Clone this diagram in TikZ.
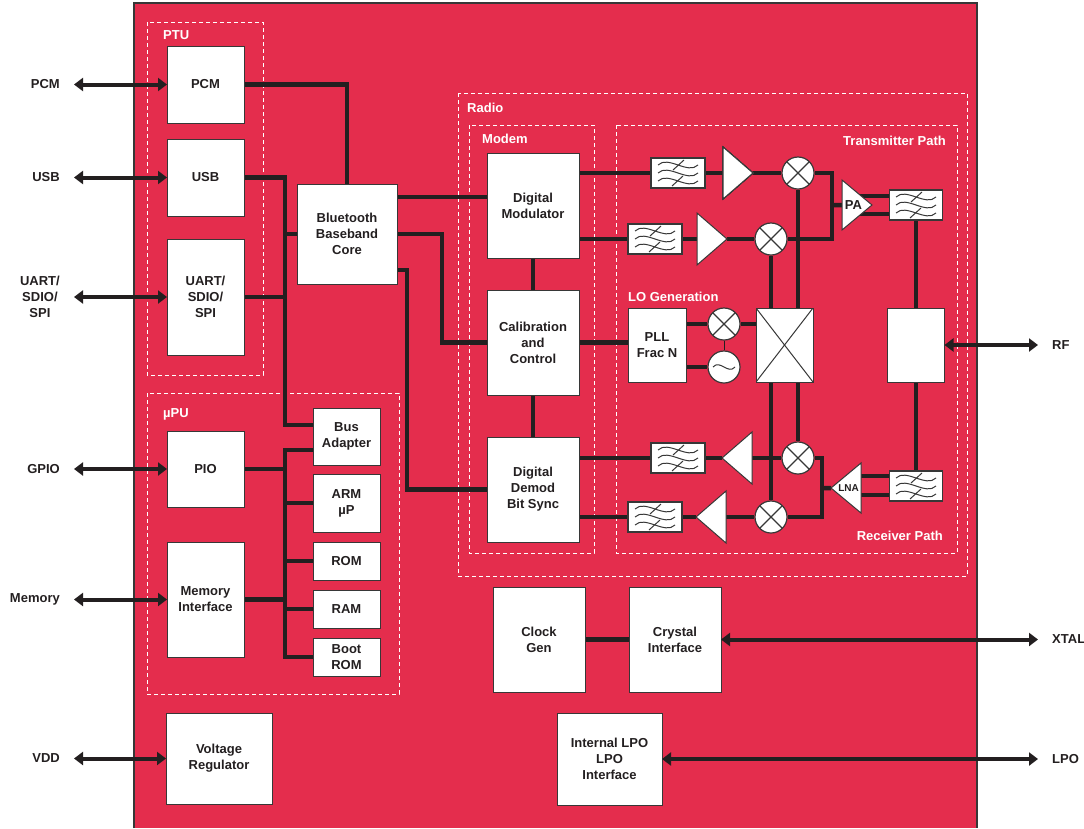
\documentclass[tikz,border=0pt]{standalone}
\usepackage{fontspec}
\setmainfont{Liberation Sans}
\usetikzlibrary{calc,positioning,shapes.geometric,arrows.meta}
\definecolor{chipred}{RGB}{228,45,77}
\definecolor{ink}{RGB}{35,31,32}
\definecolor{boxline}{RGB}{55,55,55}
\pgfdeclarelayer{back}
\pgfdeclarelayer{wires}
\pgfsetlayers{back,wires,main}

% filter symbol: three waves and two slashes
\newcommand\waves[1]{%
  \foreach \dy in {-8,0,8}
    \draw[boxline, line width=1pt] ([shift={(-20pt,\dy pt)}]#1.center) .. controls +(10pt,10pt) and +(-10pt,-10pt) .. ([shift={(20pt,\dy pt)}]#1.center);
  \draw[boxline, line width=1pt] ([shift={(-5pt,3pt)}]#1.center) -- ([shift={(6pt,13pt)}]#1.center)
    ([shift={(-6pt,-13pt)}]#1.center) -- ([shift={(5pt,-3pt)}]#1.center);
}

\begin{document}
\begin{tikzpicture}[x=1pt,y=-1pt,
  every node/.style={font=\fontsize{13}{16}\selectfont\bfseries, text=ink},
  blockbox/.style={draw=boxline, fill=white, line width=1pt, align=center, inner sep=0pt, outer sep=0pt},
  blk/.style 2 args={blockbox, minimum width=#1pt, minimum height=#2pt},
  grpbox/.style={draw=white, line width=1pt, dash pattern=on 4pt off 3pt},
  grplbl/.style={text=white, inner sep=0pt},
  pinlbl/.style={inner sep=0pt, align=center},
  wire/.style={draw=ink, line width=4.5pt},
  pinarrow/.style={draw=ink, line width=4pt, >={Triangle[length=9pt,width=13pt]}, <->},
  filt/.style={draw=boxline, fill=white, line width=1.2pt, minimum width=54pt, minimum height=30pt, inner sep=0pt, outer sep=0pt},
  ampr/.style={isosceles triangle, isosceles triangle stretches, draw=boxline, fill=white, line width=1pt, inner sep=0pt, outer sep=0pt, minimum width=52pt, minimum height=30pt},
  ampl/.style={ampr, shape border rotate=180},
  mixer/.style={circle, draw=boxline, fill=white, line width=1.2pt, minimum size=32pt, inner sep=0pt,
    path picture={\draw[boxline, line width=1.2pt] (path picture bounding box.north west) -- (path picture bounding box.south east) (path picture bounding box.south west) -- (path picture bounding box.north east);}},
  osc/.style={circle, draw=boxline, fill=white, line width=1.2pt, minimum size=32pt, inner sep=0pt,
    path picture={\draw[boxline, line width=1pt] ([xshift=-11pt]path picture bounding box.center) .. controls +(7pt,8pt) and +(-7pt,-8pt) .. ([xshift=11pt]path picture bounding box.center);}},
  quadbox/.style={path picture={\draw[boxline, line width=1pt] (path picture bounding box.north west) -- (path picture bounding box.south east) (path picture bounding box.south west) -- (path picture bounding box.north east);}}]
  \useasboundingbox (0,0) rectangle (1084,828);

  % chip and groups
  \begin{pgfonlayer}{back}
    \fill[chipred] (134,3) rectangle (977,828);
    \draw[boxline, line width=1.5pt] (134,828) |- (977,3) -- (977,828);
    \draw[grpbox] (147,22) rectangle (263,375);
    \draw[grpbox] (147,393) rectangle (399,694);
    \draw[grpbox] (458,93) rectangle (967,576);
    \draw[grpbox] (469,125) rectangle (594,553);
    \draw[grpbox] (616,125) rectangle (957,553);
  \end{pgfonlayer}
  \node[grplbl, anchor=base west] (ptul) at (163,39) {PTU};
  \node[grplbl, anchor=base west] (upul) at (163,417) {µPU};
  \node[grplbl, anchor=base west] (radiol) at (467,112) {Radio};
  \node[grplbl, anchor=base west] (modeml) at (482,143) {Modem};
  \node[grplbl, anchor=base east] (txl) at (946,145) {Transmitter Path};
  \node[grplbl, anchor=base east] (rxl) at (943,540) {Receiver Path};
  \node[grplbl, anchor=base west] (lol) at (628,301) {LO Generation};

  % host side
  \node[blk={77}{77}] (pcm) at (205.5,84.5) {PCM};
  \node[blk={77}{77}, below=16pt of pcm] (usb) {USB};
  \node[blk={77}{116}, below=23pt of usb] (uart) {UART/\\SDIO/\\SPI};
  \node[blk={100}{100}] (bt) at (347,234) {Bluetooth\\Baseband\\Core};
  \node[blk={77}{76}] (pio) at (205.5,469) {PIO};
  \node[blk={77}{115}] (mem) at (205.5,599.5) {Memory\\Interface};
  \node[blk={67}{57}] (ba) at (346.5,436.5) {Bus\\Adapter};
  \node[blk={67}{58}, below=9pt of ba] (arm) {ARM\\µP};
  \node[blk={67}{38}, below=10pt of arm] (rom) {ROM};
  \node[blk={67}{38}, below=10pt of rom] (ram) {RAM};
  \node[blk={67}{38}, below=10pt of ram] (boot) {Boot\\ROM};
  \node[blk={106}{91}] (vreg) at (219,758.5) {Voltage\\Regulator};

  % modem
  \node[blk={92}{105}] (dm) at (533,205.5) {Digital\\Modulator};
  \node[blk={92}{105}, below=32pt of dm] (cal) {Calibration\\and\\Control};
  \node[blk={92}{105}, below=42pt of cal] (dd) {Digital\\Demod\\Bit Sync};

  % rf
  \node[blk={58}{74}] (pll) at (657,345) {PLL\\Frac N};
  \node[blk={57}{74}, quadbox] (quad) at (784.5,345) {};
  \node[blk={57}{74}] (sw) at (916,345) {};
  \node[filt] (f1) at (678,173) {};
  \node[filt] (f2) at (655,239) {};
  \node[filt, minimum width=53pt] (f3) at (916,205) {};
  \node[filt] (f4) at (678,458) {};
  \node[filt] (f5) at (655,517) {};
  \node[filt, minimum width=53pt] (f6) at (916,486) {};
  \foreach \f in {f1,f2,f3,f4,f5,f6}
    \waves{\f}
  \node[ampr, anchor=lower side] (a1) at (723,173) {};
  \node[ampr, anchor=lower side] (a2) at (697,239) {};
  \node[ampr, anchor=lower side, minimum width=50pt] (pa) at (842,205) {PA};
  \node[ampl, anchor=lower side] (a3) at (752,458) {};
  \node[ampl, anchor=lower side] (a4) at (726,517) {};
  \node[ampl, anchor=lower side, minimum width=50pt, font=\fontsize{10}{12}\selectfont\bfseries] (lna) at (861,488) {LNA};
  \node[mixer] (m1) at (798,173) {};
  \node[mixer] (m2) at (771,239) {};
  \node[mixer] (m3) at (798,458) {};
  \node[mixer] (m4) at (771,517) {};
  \node[mixer] (mlo) at (724,324) {};
  \node[osc] (vco) at (724,367) {};

  % clocks
  \node[blk={92}{105}] (clk) at (539,639.5) {Clock\\Gen};
  \node[blk={92}{105}, right=44pt of clk] (xtal) {Crystal\\Interface};
  \node[blk={105}{92}] (lpo) at (609.5,759) {Internal LPO\\LPO\\Interface};

  \begin{pgfonlayer}{wires}
    \coordinate (hb) at (285,425);
    \coordinate (bt1) at (285,450);
    \coordinate (bb) at (285,657);
    \draw[wire] (pcm.east) -| (bt.north);
    \draw[wire] (usb.east) -| (hb) -- (hb -| ba.west);
    \draw[wire] (uart.east) -- (uart.east -| hb);
    \draw[wire] (bt.west) -- (bt.west -| hb);
    \draw[wire] (ba.west |- bt1) -- (bt1) -- (bb) -- (boot.west);
    \foreach \n in {pio,mem}
      \draw[wire] (\n.east) -- (\n.east -| bb);
    \foreach \n in {arm,rom,ram}
      \draw[wire] (\n.west) -- (\n.west -| bb);
    \draw[wire] (bt.east |- 0,197) -- (dm.west |- 0,197);
    \draw[wire] (bt.east) -- ++(45,0) |- (cal.west);
    \draw[wire] (bt.east |- 0,270) -- ++(10,0) |- (dd.west);
    \draw[wire] (dm) -- (cal) -- (dd);
    % transmit
    \coordinate (txj) at (832,205);
    \draw[wire] (dm |- f1) -- (f1) -- (a1.lower side) (a1.apex) -- (m1);
    \draw[wire] (dm |- f2) -- (f2) -- (a2.lower side) (a2.apex) -- (m2);
    \draw[wire] (m1) -| (txj) |- (m2);
    \draw[wire] (txj) -- (pa);
    \draw[wire] (pa |- 0,196) -- (f3 |- 0,196);
    \draw[wire] (pa |- 0,214) -- (f3 |- 0,214);
    \draw[wire] (f3) -- (f6);
    % lo
    \draw[wire] (cal) -- (cal -| pll);
    \draw[wire] (pll |- mlo) -- (mlo) -- (mlo -| quad);
    \draw[wire] (pll |- vco) -- (vco);
    \draw[draw=ink, line width=1pt] (mlo) -- (vco);
    \draw[wire] (m2) -- (m4);
    \draw[wire] (m1) -- (m3);
    % receive
    \coordinate (rxj) at (822,488);
    \draw[wire] (m3) -| (rxj) |- (m4);
    \draw[wire] (rxj) -- (lna);
    \draw[wire] (lna |- 0,476) -- (f6 |- 0,476);
    \draw[wire] (lna |- 0,495) -- (f6 |- 0,495);
    \draw[wire] (m3) -- (a3.lower side) (a3.apex) -- (f4) -- (dd |- f4);
    \draw[wire] (m4) -- (a4.lower side) (a4.apex) -- (f5) -- (dd |- f5);
    \draw[wire] (clk) -- (xtal);
  \end{pgfonlayer}

  % pins
  \node[pinlbl, anchor=east] (pcml) at (pcm.west -| 60,0) {PCM};
  \node[pinlbl, anchor=east] (usbl) at (usb.west -| 60,0) {USB};
  \node[pinlbl, anchor=east] (uartl) at (uart.west -| 60,0) {UART/\\SDIO/\\SPI};
  \node[pinlbl, anchor=east] (gpiol) at (pio.west -| 60,0) {GPIO};
  \node[pinlbl, anchor=east] (meml) at (mem.west -| 60,0) {Memory};
  \node[pinlbl, anchor=east] (vddl) at (vreg.west -| 60,0) {VDD};
  \node[pinlbl, anchor=west] (rfl) at (sw.east -| 1052,0) {RF};
  \node[pinlbl, anchor=west] (xtall) at (xtal.east -| 1052,0) {XTAL};
  \node[pinlbl, anchor=west] (lpol) at (lpo.east -| 1052,0) {LPO};
  \draw[pinarrow] ([xshift=14pt]pcml.east) -- (pcm.west);
  \draw[pinarrow] ([xshift=14pt]usbl.east) -- (usb.west);
  \draw[pinarrow] ([xshift=14pt]uartl.east) -- (uart.west);
  \draw[pinarrow] ([xshift=14pt]gpiol.east) -- (pio.west);
  \draw[pinarrow] ([xshift=14pt]meml.east) -- (mem.west);
  \draw[pinarrow] ([xshift=14pt]vddl.east) -- (vreg.west);
  \draw[pinarrow] (sw.east) -- ([xshift=-14pt]rfl.west);
  \draw[pinarrow] (xtal.east) -- ([xshift=-14pt]xtall.west);
  \draw[pinarrow] (lpo.east) -- ([xshift=-14pt]lpol.west);
\end{tikzpicture}
\end{document}
